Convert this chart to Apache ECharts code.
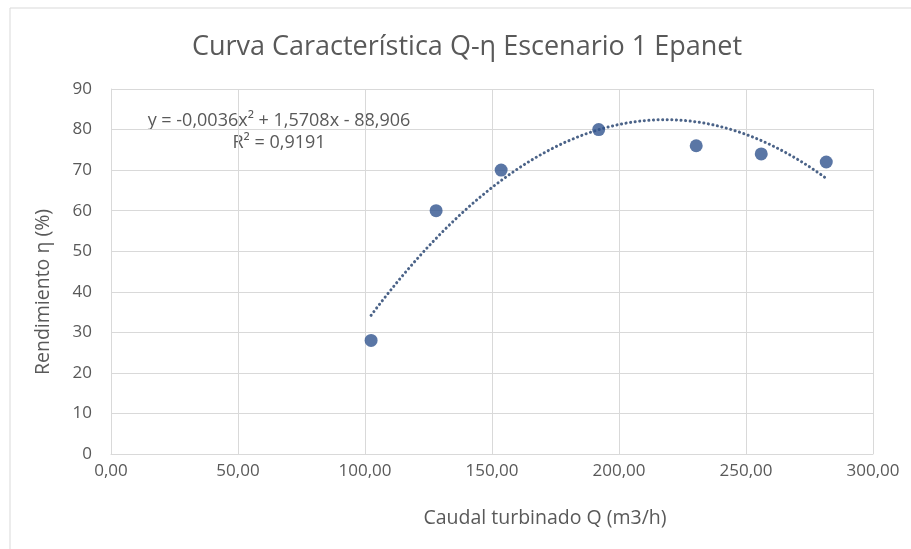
<!DOCTYPE html>
<html><head><meta charset="utf-8">
<script src="https://cdn.jsdelivr.net/npm/echarts@6/dist/echarts.min.js"></script>
<style>html,body{margin:0;padding:0;background:#fff}#c{width:911px;height:549px}</style>
</head><body><div id="c"></div>
<script>
const caudal = [102.4, 128, 153.6, 192, 230.4, 256, 281.6];
const rendimiento = [28, 60, 70, 80, 76, 74, 72];
const trendCoef = [-0.0036, 1.5708, -88.906]; // a x^2 + b x + c, from the chart's equation
const xTicks = [0, 50, 100, 150, 200, 250, 300];
const yTicks = [0, 10, 20, 30, 40, 50, 60, 70, 80, 90];
const titleText = 'Curva Característica Q-η Escenario 1 Epanet';
const xName = 'Caudal turbinado Q (m3/h)';
const yName = 'Rendimiento η (%)';
const eqText = 'y = -0,0036x² + 1,5708x - 88,906';
const r2Text = 'R² = 0,9191';

const FONT = '"Open Sans", sans-serif';
const TXT = '#595959';
const GRID = '#d9d9d9';

const xMin = caudal[0], xMax = caudal[caudal.length - 1];
const trend = [];
for (let i = 0; i <= 80; i++) {
  const x = xMin + (xMax - xMin) * i / 80;
  trend.push([x, trendCoef[0] * x * x + trendCoef[1] * x + trendCoef[2]]);
}

const chart = echarts.init(document.getElementById('c'), null, {renderer: 'canvas'});
chart.setOption({
  backgroundColor: '#fff',
  animation: false,
  grid: {left: 111, right: 38, top: 89, bottom: 95},
  xAxis: {
    type: 'value', min: xTicks[0], max: xTicks[xTicks.length - 1], interval: 50,
    axisLine: {show: true, lineStyle: {color: GRID}},
    axisTick: {show: false},
    splitLine: {show: true, lineStyle: {color: GRID, width: 1}},
    axisLabel: {color: TXT, fontFamily: FONT, fontSize: 17, margin: 9,
      formatter: v => v.toFixed(2).replace('.', ',')}
  },
  yAxis: {
    type: 'value', min: yTicks[0], max: yTicks[yTicks.length - 1], interval: 10,
    axisLine: {show: true, lineStyle: {color: GRID}},
    axisTick: {show: false},
    splitLine: {show: true, lineStyle: {color: GRID, width: 1}},
    axisLabel: {color: TXT, fontFamily: FONT, fontSize: 17, margin: 19}
  },
  series: [
    {type: 'line', data: trend, showSymbol: false, symbol: 'none', smooth: false,
      lineStyle: {color: '#4B6388', width: 3, type: [0.1, 4.5], cap: 'round'}, z: 2},
    {type: 'scatter', data: caudal.map((x, i) => [x, rendimiento[i]]), symbolSize: 13,
      itemStyle: {color: '#31548E'}, z: 3}
  ],
  graphic: [
    {type: 'rect', shape: {x: 10, y: 8, width: 920, height: 560}, style: {fill: 'none', stroke: GRID, lineWidth: 1}, z: -1},
    {type: 'text', x: 467, y: 47, style: {text: titleText, font: '27px ' + FONT, fill: TXT, textAlign: 'center', textVerticalAlign: 'middle'}},
    {type: 'text', x: 545, y: 518, style: {text: xName, font: '19.5px ' + FONT, fill: TXT, textAlign: 'center', textVerticalAlign: 'middle'}},
    {type: 'text', x: 43, y: 292, rotation: Math.PI / 2, style: {text: yName, font: '19.5px ' + FONT, fill: TXT, textAlign: 'center', textVerticalAlign: 'middle'}},
    {type: 'text', x: 279, y: 121, style: {text: eqText, font: '18px ' + FONT, fill: TXT, textAlign: 'center', textVerticalAlign: 'middle'}},
    {type: 'text', x: 279, y: 143, style: {text: r2Text, font: '18px ' + FONT, fill: TXT, textAlign: 'center', textVerticalAlign: 'middle'}}
  ]
});
</script></body></html>
